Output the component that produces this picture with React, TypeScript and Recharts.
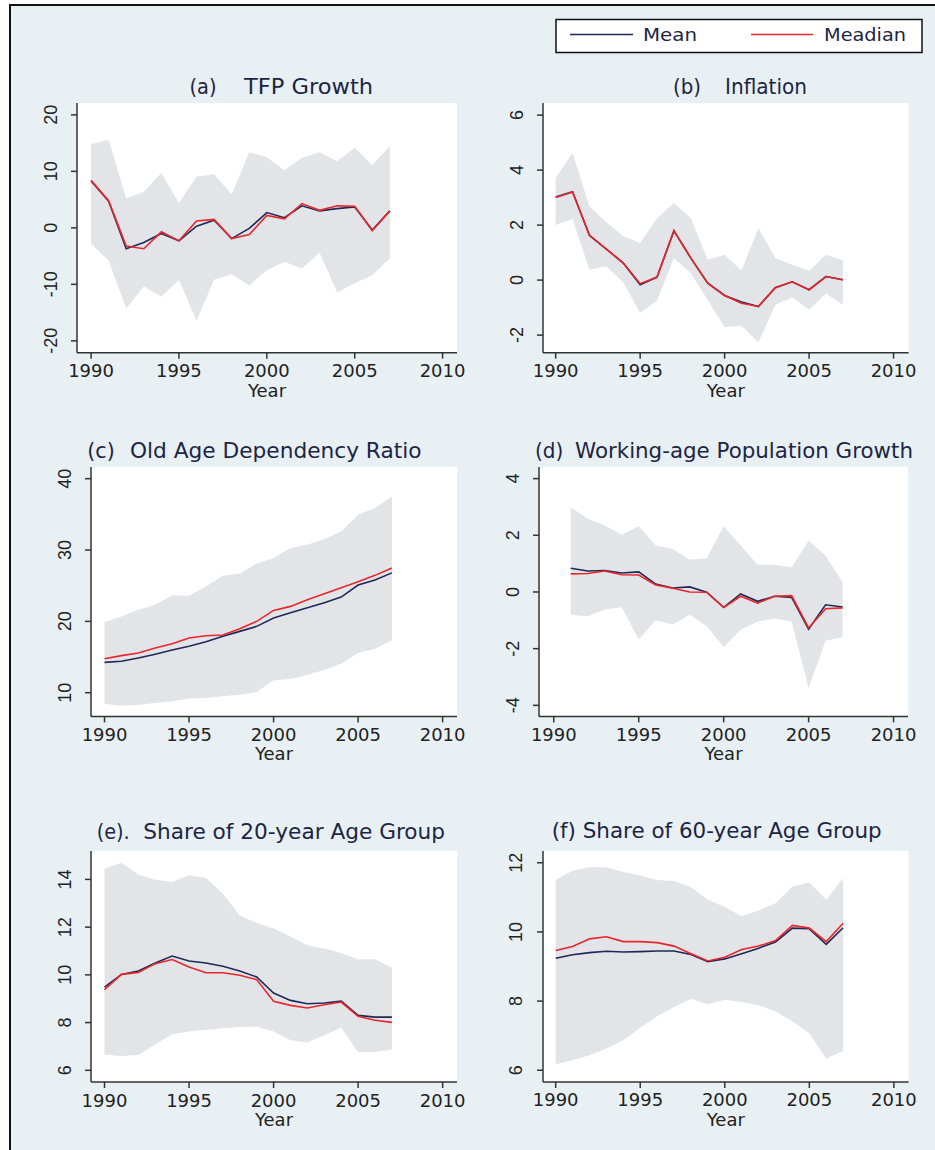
import React from "react";
import { ComposedChart, Area, Line, XAxis, YAxis, CartesianGrid } from "recharts";

const YEARS = [1990, 1991, 1992, 1993, 1994, 1995, 1996, 1997, 1998, 1999, 2000, 2001, 2002, 2003, 2004, 2005, 2006, 2007];
const YEARS_D = [1991, 1992, 1993, 1994, 1995, 1996, 1997, 1998, 1999, 2000, 2001, 2002, 2003, 2004, 2005, 2006, 2007];
const X_TICKS = [1990, 1995, 2000, 2005, 2010];

// (a) TFP growth
const TFP_MEAN = [8.3, 4.7, -3.7, -2.6, -1.0, -2.3, 0.3, 1.35, -1.9, -0.1, 2.7, 1.8, 3.9, 3.0, 3.4, 3.7, -0.4, 3.0];
const TFP_MEDIAN = [8.4, 4.8, -3.2, -3.7, -0.7, -2.3, 1.2, 1.5, -1.9, -1.2, 2.2, 1.6, 4.3, 3.1, 3.9, 3.8, -0.5, 3.0];
const TFP_HIGH = [14.8, 15.6, 5.2, 6.4, 9.7, 4.4, 9.1, 9.5, 5.9, 13.4, 12.5, 10.2, 12.4, 13.4, 11.8, 14.2, 11.1, 14.5];
const TFP_LOW = [-2.8, -5.8, -14.3, -10.4, -12.2, -9.2, -16.4, -9.2, -8.2, -10.2, -7.5, -6.0, -7.2, -4.4, -11.4, -9.8, -8.4, -5.4];

// (b) inflation
const INF_MEAN = [3.02, 3.21, 1.62, 1.13, 0.62, -0.17, 0.11, 1.79, 0.8, -0.11, -0.56, -0.8, -0.96, -0.28, -0.06, -0.35, 0.13, 0.01];
const INF_MEDIAN = [3.0, 3.2, 1.64, 1.13, 0.62, -0.13, 0.11, 1.8, 0.8, -0.11, -0.56, -0.84, -0.96, -0.28, -0.06, -0.35, 0.13, 0.01];
const INF_HIGH = [3.71, 4.62, 2.68, 2.1, 1.59, 1.35, 2.25, 2.8, 2.25, 0.74, 0.92, 0.35, 1.89, 0.8, 0.56, 0.34, 0.92, 0.72];
const INF_LOW = [2.0, 2.22, 0.38, 0.5, -0.08, -1.2, -0.74, 0.8, 0.25, -0.72, -1.71, -1.66, -2.27, -0.9, -0.62, -1.08, -0.5, -0.9];

// (c) old age dependency ratio
const OLD_MEAN = [14.25, 14.4, 14.86, 15.4, 15.98, 16.5, 17.15, 17.9, 18.6, 19.3, 20.47, 21.2, 21.9, 22.6, 23.4, 25.1, 25.8, 26.8];
const OLD_MEDIAN = [14.77, 15.2, 15.56, 16.26, 16.87, 17.66, 17.99, 18.08, 18.97, 20.0, 21.54, 22.1, 23.04, 23.88, 24.7, 25.56, 26.45, 27.48];
const OLD_HIGH = [19.86, 20.7, 21.64, 22.34, 23.64, 23.6, 24.9, 26.4, 26.7, 28.1, 28.88, 30.28, 30.75, 31.54, 32.6, 34.95, 35.89, 37.5];
const OLD_LOW = [8.46, 8.18, 8.32, 8.55, 8.79, 9.2, 9.25, 9.5, 9.72, 10.1, 11.73, 11.92, 12.5, 13.2, 14.06, 15.56, 16.17, 17.34];

// (d) working-age population growth (from 1991)
const WAP_MEAN = [0.84, 0.74, 0.76, 0.67, 0.71, 0.28, 0.14, 0.18, -0.01, -0.54, -0.07, -0.33, -0.15, -0.19, -1.31, -0.45, -0.53];
const WAP_MEDIAN = [0.64, 0.65, 0.74, 0.61, 0.6, 0.25, 0.13, 0.0, -0.01, -0.55, -0.15, -0.39, -0.15, -0.13, -1.27, -0.59, -0.56];
const WAP_HIGH = [2.99, 2.58, 2.35, 2.02, 2.32, 1.64, 1.52, 1.14, 1.19, 2.32, 1.64, 0.96, 0.96, 0.87, 1.81, 1.28, 0.35];
const WAP_LOW = [-0.8, -0.86, -0.62, -0.54, -1.68, -1.0, -1.15, -0.8, -1.21, -1.94, -1.33, -1.04, -0.94, -1.04, -3.39, -1.72, -1.59];

// (e) share of 20-year age group
const S20_MEAN = [9.49, 10.02, 10.16, 10.5, 10.79, 10.58, 10.5, 10.36, 10.16, 9.91, 9.24, 8.93, 8.79, 8.82, 8.9, 8.3, 8.23, 8.23];
const S20_MEDIAN = [9.38, 10.02, 10.1, 10.47, 10.64, 10.33, 10.09, 10.09, 9.98, 9.8, 8.89, 8.72, 8.61, 8.75, 8.86, 8.26, 8.1, 8.01];
const S20_HIGH = [14.45, 14.7, 14.21, 13.99, 13.89, 14.17, 14.06, 13.4, 12.49, 12.17, 11.94, 11.61, 11.24, 11.1, 10.92, 10.64, 10.65, 10.3];
const S20_LOW = [6.66, 6.6, 6.64, 7.08, 7.51, 7.63, 7.7, 7.76, 7.82, 7.84, 7.63, 7.26, 7.17, 7.47, 7.79, 6.77, 6.77, 6.87];

// (f) share of 60-year age group
const S60_MEAN = [9.24, 9.34, 9.4, 9.44, 9.42, 9.43, 9.45, 9.45, 9.35, 9.14, 9.22, 9.37, 9.53, 9.71, 10.11, 10.09, 9.64, 10.12];
const S60_MEDIAN = [9.46, 9.58, 9.8, 9.86, 9.72, 9.72, 9.69, 9.59, 9.37, 9.16, 9.27, 9.49, 9.59, 9.75, 10.19, 10.11, 9.72, 10.25];
const S60_HIGH = [11.51, 11.77, 11.87, 11.87, 11.73, 11.63, 11.5, 11.47, 11.29, 10.93, 10.72, 10.45, 10.62, 10.83, 11.31, 11.43, 10.93, 11.56];
const S60_LOW = [6.17, 6.29, 6.43, 6.63, 6.87, 7.23, 7.56, 7.83, 8.07, 7.91, 8.04, 7.97, 7.88, 7.7, 7.42, 7.06, 6.34, 6.56];

const NAVY = "#1d2a57";
const RED = "#e8262b";
const BAND = "#e3e4e8";
const AXIS = "#333";
const TEXT = "#1c2544";
const FONT = "'DejaVu Sans', Verdana, sans-serif";

const YW = 50;
const XH = 50;
const PAD_R = 30; // room for the last x tick label

type PanelProps = {
  years: number[];
  mean: number[];
  median: number[];
  low: number[];
  high: number[];
  left: number;
  top: number;
  w: number;
  h: number;
  xDomain: [number, number];
  yDomain: [number, number];
  yTicks: number[];
};

const Panel = ({ years, mean, median, low, high, left, top, w, h, xDomain, yDomain, yTicks }: PanelProps) => {
  const data = years.map((year, i) => ({
    year,
    mean: mean[i],
    median: median[i],
    band: [low[i], high[i]],
  }));

  const xTick = (p: any) => (
    <text x={p.x} y={h + 24.5} textAnchor="middle" fontSize={18} fill="#222" fontFamily={FONT}>
      {p.payload.value}
    </text>
  );
  const yTick = (p: any) => (
    <text
      transform={`translate(${YW - 27 + 6.5},${p.y}) rotate(-90)`}
      textAnchor="middle"
      fontSize={18}
      fill="#222"
      fontFamily="'Liberation Sans', Arial, sans-serif"
    >
      {p.payload.value}
    </text>
  );
  const yearLabel = () => (
    <text x={YW + w / 2} y={h + 44} textAnchor="middle" fontSize={18} fill="#222" fontFamily={FONT}>
      Year
    </text>
  );

  return (
    <div style={{ position: "absolute", left: left - YW, top }}>
      <ComposedChart width={YW + w + PAD_R} height={h + XH} data={data} margin={{ top: 0, right: PAD_R, bottom: 0, left: 0 }}>
        <CartesianGrid horizontal={false} vertical={false} fill="#fff" stroke="none" />
        <XAxis
          dataKey="year"
          type="number"
          domain={xDomain}
          ticks={X_TICKS}
          allowDataOverflow
          height={XH}
          axisLine={{ stroke: AXIS, strokeWidth: 1.5 }}
          tickLine={{ stroke: AXIS, strokeWidth: 1.5 }}
          tickSize={6}
          tick={xTick}
          label={yearLabel}
        />
        <YAxis
          type="number"
          domain={yDomain}
          ticks={yTicks}
          allowDataOverflow
          width={YW}
          axisLine={{ stroke: AXIS, strokeWidth: 1.5 }}
          tickLine={{ stroke: AXIS, strokeWidth: 1.5 }}
          tickSize={6}
          tick={yTick}
        />
        <Area dataKey="band" type="linear" stroke="none" fill={BAND} fillOpacity={1} isAnimationActive={false} />
        <Line dataKey="mean" type="linear" stroke={NAVY} strokeWidth={1.6} dot={false} isAnimationActive={false} />
        <Line dataKey="median" type="linear" stroke={RED} strokeWidth={1.6} dot={false} isAnimationActive={false} />
      </ComposedChart>
    </div>
  );
};

const Title = ({ x, y, text, len }: { x: number; y: number; text: string; len: number }) => (
  <text x={x} y={y} fontSize={22} fill={TEXT} fontFamily={FONT} textLength={len} lengthAdjust="spacingAndGlyphs">
    {text}
  </text>
);

export default function App() {
  return (
    <div style={{ position: "absolute", left: 0, top: 0, width: 935, height: 1150, background: "#fff", overflow: "hidden" }}>
      <div
        style={{
          position: "absolute",
          left: 9,
          top: 4,
          right: 0,
          bottom: 0,
          background: "#e9f0f3",
          borderTop: "2px solid #111",
          borderLeft: "2px solid #111",
        }}
      />
      <Panel years={YEARS} mean={TFP_MEAN} median={TFP_MEDIAN} low={TFP_LOW} high={TFP_HIGH}
        left={76.7} top={103} w={380} h={249.7} xDomain={[1989.2, 2010.82]} yDomain={[-22.1, 22.1]} yTicks={[-20, -10, 0, 10, 20]} />
      <Panel years={YEARS} mean={INF_MEAN} median={INF_MEDIAN} low={INF_LOW} high={INF_HIGH}
        left={542.7} top={103} w={365.6} h={249.7} xDomain={[1989.25, 2010.89]} yDomain={[-2.64, 6.44]} yTicks={[-2, 0, 2, 4, 6]} />
      <Panel years={YEARS} mean={OLD_MEAN} median={OLD_MEDIAN} low={OLD_LOW} high={OLD_HIGH}
        left={90.7} top={467.3} w={366} h={249.4} xDomain={[1989.2, 2010.85]} yDomain={[6.68, 41.64]} yTicks={[10, 20, 30, 40]} />
      <Panel years={YEARS_D} mean={WAP_MEAN} median={WAP_MEDIAN} low={WAP_LOW} high={WAP_HIGH}
        left={539.3} top={467.3} w={369} h={249.4} xDomain={[1989.13, 2010.85]} yDomain={[-4.39, 4.41]} yTicks={[-4, -2, 0, 2, 4]} />
      <Panel years={YEARS} mean={S20_MEAN} median={S20_MEDIAN} low={S20_LOW} high={S20_HIGH}
        left={90.7} top={850.7} w={366} h={231} xDomain={[1989.2, 2010.85]} yDomain={[5.51, 15.19]} yTicks={[6, 8, 10, 12, 14]} />
      <Panel years={YEARS} mean={S60_MEAN} median={S60_MEDIAN} low={S60_LOW} high={S60_HIGH}
        left={542.7} top={850.7} w={365.6} h={231} xDomain={[1989.25, 2010.87]} yDomain={[5.66, 12.34]} yTicks={[6, 8, 10, 12]} />

      <svg width={935} height={1150} style={{ position: "absolute", left: 0, top: 0, pointerEvents: "none" }}>
        <rect x={556} y={19.5} width={366} height={33} fill="#fff" stroke="#111" strokeWidth={1.5} />
        <line x1={570} x2={633} y1={34.5} y2={34.5} stroke={NAVY} strokeWidth={1.6} />
        <text x={643} y={40.5} fontSize={17} fill={TEXT} fontFamily={FONT} textLength={54} lengthAdjust="spacingAndGlyphs">Mean</text>
        <line x1={751} x2={813} y1={34.5} y2={34.5} stroke={RED} strokeWidth={1.6} />
        <text x={824} y={40.5} fontSize={17} fill={TEXT} fontFamily={FONT} textLength={82} lengthAdjust="spacingAndGlyphs">Meadian</text>

        <Title x={189.5} y={93.7} text="(a)" len={27} />
        <Title x={244} y={93.7} text="TFP Growth" len={129} />
        <Title x={673} y={93.7} text="(b)" len={28} />
        <Title x={725} y={93.7} text="Inflation" len={82} />
        <Title x={87.3} y={458} text="(c)" len={27.5} />
        <Title x={130} y={458} text="Old Age Dependency Ratio" len={291.5} />
        <Title x={535} y={458} text="(d)" len={28.3} />
        <Title x={575} y={458} text="Working-age Population Growth" len={338} />
        <Title x={96.7} y={839} text="(e)." len={33} />
        <Title x={143.3} y={839} text="Share of 20-year Age Group" len={301.7} />
        <Title x={551.7} y={837.5} text="(f) Share of 60-year Age Group" len={330} />
      </svg>
    </div>
  );
}
